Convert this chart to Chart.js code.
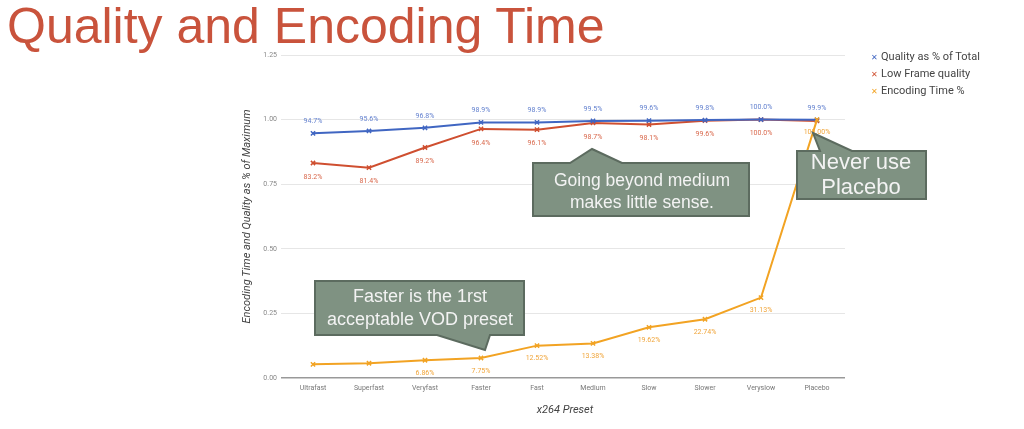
<!DOCTYPE html>
<html>
<head>
<meta charset="utf-8">
<script src="https://cdn.jsdelivr.net/npm/chart.js@4"></script>
<style>
  body { margin: 0; background: #fff; }
  #wrap { position: relative; width: 1024px; height: 429px; overflow: hidden; }
  #title { position: absolute; left: 7px; top: 1px; font-family: "Liberation Sans", Arial, sans-serif;
           font-size: 50px; line-height: 50px; color: #c9533c; white-space: nowrap; }
  #legend { position: absolute; left: 871px; top: 50px; font-family: Roboto, sans-serif; font-size: 11px; color: #444; }
  #legend div { height: 17px; line-height: 14px; }
  #legend span { display: inline-block; width: 10px; font-size: 8px; }
  canvas { position: absolute; left: 0; top: 0; }
</style>
</head>
<body>
<div id="wrap">
  <canvas id="QualityChart" width="1024" height="429"></canvas>
  <div id="title">Quality and Encoding Time</div>
  <div id="legend"></div>
</div>
<script>
const presets = ['Ultrafast', 'Superfast', 'Veryfast', 'Faster', 'Fast', 'Medium', 'Slow', 'Slower', 'Veryslow', 'Placebo'];
const qualityTotal = [0.947, 0.956, 0.968, 0.989, 0.989, 0.995, 0.996, 0.998, 1.000, 0.999];
const lowFrame = [0.832, 0.814, 0.892, 0.964, 0.961, 0.987, 0.981, 0.996, 1.000, 0.995];
const encodingTime = [0.053, 0.057, 0.0686, 0.0775, 0.1252, 0.1338, 0.1962, 0.2274, 0.3113, 1.000];
const yTicks = [0, 0.25, 0.5, 0.75, 1.0, 1.25];

// which value labels are visible (the rest are hidden by overlaps in the original)
const qualityShown = [1, 1, 1, 1, 1, 1, 1, 1, 1, 1];
const lowFrameShown = [1, 1, 1, 1, 1, 1, 1, 1, 1, 0];
const encodingShown = [0, 0, 1, 1, 1, 1, 1, 1, 1, 1];

const series = [
    { label: 'Quality as % of Total', data: qualityTotal, color: '#4066c2', text: '#6482cf', shown: qualityShown, digits: 1, dy: -12 },
    { label: 'Low Frame quality', data: lowFrame, color: '#cf4f30', text: '#d9694d', shown: lowFrameShown, digits: 1, dy: 14 },
    { label: 'Encoding Time %', data: encodingTime, color: '#f2a323', text: '#f0a53a', shown: encodingShown, digits: 2, dy: 13 }
];

document.getElementById('legend').innerHTML = series.map(s =>
    '<div><span style="color:' + s.color + '">&#x2715;</span>' + s.label + '</div>').join('');

const valueLabels = {
    id: 'valueLabels',
    afterDatasetsDraw(chart) {
        const ctx = chart.ctx;
        ctx.save();
        ctx.font = '7px Roboto';
        ctx.textAlign = 'center';
        ctx.textBaseline = 'middle';
        series.forEach((s, i) => {
            const meta = chart.getDatasetMeta(i);
            meta.data.forEach((pt, j) => {
                if (!s.shown[j]) return;
                ctx.fillStyle = s.text;
                ctx.fillText((s.data[j] * 100).toFixed(s.digits) + '%', pt.x, pt.y + s.dy);
            });
        });
        ctx.restore();
    }
};

const callouts = [
    { path: [[533,163],[570,163],[592,149],[622,163],[749,163],[749,216],[533,216]], lines: ['Going beyond medium', 'makes little sense.'], cx: 642, y: [181, 203], size: 17.5 },
    { path: [[797,151],[820,151],[813,133],[852,151],[926,151],[926,199],[797,199]], lines: ['Never use', 'Placebo'], cx: 861, y: [163, 188], size: 22 },
    { path: [[315,281],[524,281],[524,335],[490,335],[485,350],[437,335],[315,335]], lines: ['Faster is the 1rst', 'acceptable VOD preset'], cx: 420, y: [297, 320], size: 18 }
];

const calloutPlugin = {
    id: 'callouts',
    afterDraw(chart) {
        const ctx = chart.ctx;
        ctx.save();
        callouts.forEach(c => {
            ctx.beginPath();
            c.path.forEach((p, k) => k ? ctx.lineTo(p[0], p[1]) : ctx.moveTo(p[0], p[1]));
            ctx.closePath();
            ctx.fillStyle = '#7f9282';
            ctx.fill();
            ctx.strokeStyle = '#5c6b5f';
            ctx.lineWidth = 2;
            ctx.stroke();
            ctx.fillStyle = '#f3f3f3';
            ctx.font = c.size + 'px "Liberation Sans", Arial';
            ctx.textAlign = 'center';
            ctx.textBaseline = 'middle';
            c.lines.forEach((t, k) => ctx.fillText(t, c.cx, c.y[k]));
        });
        ctx.restore();
    }
};

const qc = document.getElementById('QualityChart').getContext('2d');
const QualityChart = new Chart(qc, {
    type: 'line',
    data: {
        labels: presets,
        datasets: series.map((s, i) => ({
            label: s.label,
            data: s.data,
            borderColor: s.color,
            backgroundColor: s.color,
            borderWidth: 2,
            pointStyle: 'crossRot',
            pointRadius: 3,
            pointBorderWidth: 1.5,
            tension: 0,
            order: i === 2 ? -1 : i
        }))
    },
    options: {
        responsive: false,
        animation: false,
        layout: { padding: { left: 237, right: 179, top: 55, bottom: 8 } },
        plugins: { legend: { display: false }, tooltip: { enabled: false } },
        scales: {
            x: {
                offset: true,
                grid: { display: false, drawTicks: false },
                border: { display: false },
                ticks: { color: '#777', font: { family: 'Roboto', size: 7 }, padding: 6 },
                title: { display: true, text: 'x264 Preset', color: '#444', font: { family: 'Roboto', size: 11, style: 'italic' }, padding: { top: 16 } },
                afterFit(scale) { scale.height = 43; }
            },
            y: {
                min: 0,
                max: 1.25,
                afterBuildTicks(scale) { scale.ticks = yTicks.map(v => ({ value: v })); },
                border: { display: false },
                grid: {
                    color: ctx => ctx.tick && ctx.tick.value === 0 ? '#999' : '#e6e6e6',
                    lineWidth: ctx => ctx.tick && ctx.tick.value === 0 ? 1.5 : 1,
                    drawTicks: true,
                    tickLength: 4
                },
                ticks: { color: '#888', font: { family: 'Roboto', size: 7 }, padding: 4, callback: v => v.toFixed(2) },
                title: { display: true, text: 'Encoding Time and Quality as % of Maximum', color: '#444', font: { family: 'Roboto', size: 11, style: 'italic' }, padding: { bottom: 12 } },
                afterFit(scale) { scale.width = 48; }
            }
        }
    },
    plugins: [valueLabels, calloutPlugin]
});
</script>
</body>
</html>
